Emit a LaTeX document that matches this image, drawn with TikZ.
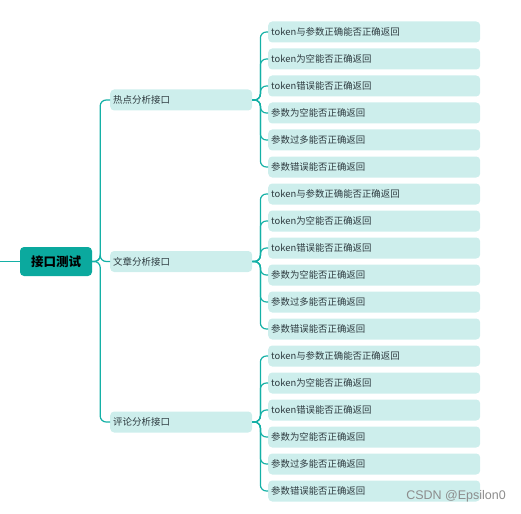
\documentclass[tikz,border=0pt]{standalone}
\usepackage{fontspec}
\newfontfamily\cjk{Noto Sans CJK SC}
\newfontfamily\wmfont{Liberation Sans}
\usepackage{xcolor}
\usetikzlibrary{positioning,calc}
\definecolor{teal1}{HTML}{0BA99E}
\definecolor{teal2}{HTML}{14B0A6}
\definecolor{pale}{HTML}{CDEEEC}
\definecolor{ink}{HTML}{2E3B40}

\begin{document}
\begin{tikzpicture}[x=1pt,y=-1pt,font=\cjk,
    topic/.style={fill=teal1,rounded corners=4pt,minimum width=72pt,minimum height=29pt,inner sep=0pt,font=\cjk\bfseries\fontsize{12.5}{14}\selectfont},
    sub/.style={fill=pale,rounded corners=4pt,anchor=west,text width=136pt,inner xsep=3pt,minimum height=21pt,inner ysep=0pt,text=ink,font=\cjk\fontsize{9.5}{11}\selectfont},
    leaf/.style={fill=pale,rounded corners=4pt,anchor=west,text width=206pt,inner xsep=3pt,minimum height=21pt,inner ysep=0pt,text=ink,font=\cjk\fontsize{9.4}{11}\selectfont},
    link/.style={draw=teal2,line width=1.2pt,rounded corners=6pt}]
  \useasboundingbox (0,0) rectangle (521,513);
  \node[topic] (root) at (56,261.5) {接口测试};
  \coordinate (in0) at (0,261.5);
  \draw[link] (in0) -- (root.west);
  % second level
  \foreach \g/\y/\l in {1/100/热点分析接口,2/261.5/文章分析接口,3/422/评论分析接口}{
    \node[sub] (s\g) at (110,\y) {\l};
    \draw[link] (root.east) -- ++(8,0) |- (s\g.west);
    % leaves
    \foreach \k/\t in {0/token与参数正确能否正确返回,1/token为空能否正确返回,2/token错误能否正确返回,
                       3/参数为空能否正确返回,4/参数过多能否正确返回,5/参数错误能否正确返回}{
      \node[leaf] (l\g-\k) at (268,{32+27*(6*(\g-1)+\k)}) {\t};
      \draw[link] (s\g.east) -- ++(8,0) |- (l\g-\k.west);
    }
  }
  \node[anchor=east,text=black!45,font=\wmfont\fontsize{12.5}{14}\selectfont,inner sep=0pt] (wm) at (506,496) {CSDN @Epsilon0};
\end{tikzpicture}
\end{document}
